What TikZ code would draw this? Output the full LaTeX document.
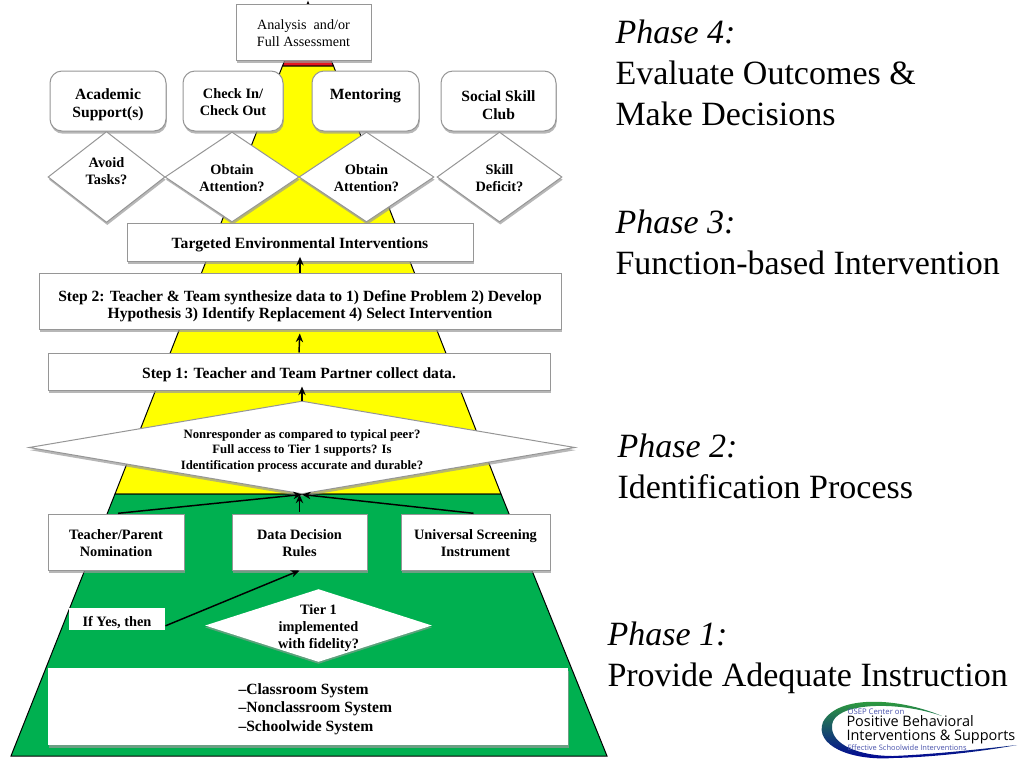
\documentclass[tikz,border=0pt]{standalone}
\usepackage{fontspec}
\setmainfont{Liberation Serif}
\newfontfamily\logofont{Open Sans}
\usetikzlibrary{shapes.geometric,shadows,arrows.meta}

\definecolor{pyrred}{RGB}{229,24,32}
\definecolor{pyryellow}{RGB}{255,255,0}
\definecolor{pyrgreen}{RGB}{0,176,80}
\definecolor{boxline}{RGB}{150,150,150}
\definecolor{osepblue}{RGB}{70,80,170}

\tikzset{every picture/.style={line width=0.75pt}}
\tikzset{
  softshadow/.style={drop shadow={shadow xshift=0.6pt,shadow yshift=-2pt,fill=black!40,opacity=0.7}},
  boxtext/.style={inner sep=0pt,align=center,font=\bfseries\fontsize{11.7}{13}\selectfont},
  smalltext/.style={inner sep=0pt,align=center,font=\bfseries\fontsize{10.75}{13}\selectfont},
  whitebox/.style={rectangle,draw=boxline,fill=white,inner sep=0pt,softshadow},
  roundbox/.style={whitebox,rounded corners=9pt},
  choice/.style={diamond,draw=boxline,fill=white,inner sep=0pt,softshadow},
  upline/.style={line width=1.1pt,-{Stealth[length=6.5pt,width=5.5pt]}},
  phasetext/.style={anchor=north west,inner sep=0pt,align=left,font=\fontsize{25.5}{30.8}\selectfont},
  pyrside/.style={draw=black,line width=0.75pt}
}

\begin{document}
\begin{tikzpicture}[x=0.75pt,y=0.75pt,yscale=-1,xscale=1]
\useasboundingbox (0,0) rectangle (1024,768);

%Shape: Triangle
\draw [pyrside,fill=pyrred] (308,2) -- (282.5,66) -- (333.5,66) -- cycle ;
%Shape: Trapezoid
\draw [pyrside,fill=pyryellow] (282.5,66) -- (333.5,66) -- (501,494) -- (115,494) -- cycle ;
%Shape: Trapezoid
\draw [pyrside,fill=pyrgreen] (115,494) -- (501,494) -- (607,756) -- (11,756) -- cycle ;

% Top row
\draw (303.5,32) node [whitebox,minimum width=101.25pt,minimum height=42pt] (analysis) {};
\draw (108,101) node [roundbox,minimum width=87pt,minimum height=45pt] (academic) {};
\draw (233,101) node [roundbox,minimum width=75pt,minimum height=45pt] (checkin) {};
\draw (365.5,101) node [roundbox,minimum width=80.25pt,minimum height=45pt] (mentoring) {};
\draw (498.5,101) node [roundbox,minimum width=86.25pt,minimum height=45pt] (social) {};

% Function diamonds
\draw (106.5,177) node [choice,minimum width=87.75pt,minimum height=68.25pt] (avoid) {};
\draw (232,177) node [choice,minimum width=100.5pt,minimum height=67.5pt] (obtainl) {};
\draw (366.5,177) node [choice,minimum width=101.25pt,minimum height=67.5pt] (obtainr) {};
\draw (499.5,177) node [choice,minimum width=93.75pt,minimum height=67.5pt] (skill) {};

% Steps
\draw (300,242) node [whitebox,minimum width=259.5pt,minimum height=28.5pt] (targeted) {};
\draw (300,301) node [whitebox,minimum width=391.5pt,minimum height=42pt] (steptwo) {};
\draw (299,371.5) node [whitebox,minimum width=376.5pt,minimum height=27.75pt] (stepone) {};
\draw (302,447.5) node [choice,minimum width=409.5pt,minimum height=69.75pt] (nonresp) {};

% Data sources
\draw (116,542) node [whitebox,minimum width=102pt,minimum height=42pt] (nomination) {};
\draw (299.5,542) node [whitebox,minimum width=101.25pt,minimum height=42pt] (rules) {};
\draw (475.5,542) node [whitebox,minimum width=111.75pt,minimum height=42pt] (screening) {};

% Tier 1
\draw (117,619) node [rectangle,fill=white,inner sep=0pt,minimum width=72pt,minimum height=16.5pt] (ifyes) {};
\draw (318.5,625.5) node [diamond,fill=white,inner sep=0pt,minimum width=170.25pt,minimum height=54.75pt,drop shadow={shadow xshift=0pt,shadow yshift=-1.5pt,fill=black!40,opacity=0.6}] (fidelity) {};
\draw (308,706.5) node [whitebox,draw=none,minimum width=390pt,minimum height=57.75pt] (systems) {};

%Straight Lines
\draw [upline,shorten >=-3.5pt] (steptwo.north) -- (targeted.south);
\draw [upline,shorten >=3pt] (stepone.north) -- (steptwo.south);
\draw [upline,shorten >=-3pt] (nonresp.north) -- (stepone.south -| nonresp.north);
\draw [upline,shorten <=1.5pt] (nomination.north) -- (nonresp.south);
\draw [upline,shorten <=1.5pt] (rules.north) -- (rules.north |- nonresp.south);
\draw [upline,shorten <=1.5pt] (screening.north) -- (nonresp.south);
\draw [upline] (ifyes.-8) -- (rules.south);

% Text Node
\draw (303.5,33) node [boxtext,font=\fontsize{10.6}{13}\selectfont] (analysistext) {Analysis\ \ and/or\\Full Assessment};
% Text Node
\draw (108,105) node [boxtext,font=\bfseries\fontsize{11.7}{13.5}\selectfont] (academictext) {Academic\\Support(s)};
% Text Node
\draw (233,102) node [smalltext] (checkintext) {Check In/\\Check Out};
% Text Node
\draw (365.5,96) node [boxtext] (mentoringtext) {Mentoring};
% Text Node
\draw (498.5,105) node [boxtext,font=\bfseries\fontsize{11.7}{13.5}\selectfont] (socialtext) {Social Skill\\Club};
% Text Node
\draw (106.5,171) node [smalltext] (avoidtext) {Avoid\\Tasks?};
% Text Node
\draw (232,178) node [smalltext] (obtainltext) {Obtain\\Attention?};
% Text Node
\draw (366.5,178) node [smalltext] (obtainrtext) {Obtain\\Attention?};
% Text Node
\draw (499.5,178) node [smalltext] (skilltext) {Skill\\Deficit?};
% Text Node
\draw (300,245) node [boxtext] (targetedtext) {Targeted Environmental Interventions};
% Text Node
\draw (300,306.5) node [boxtext] (steptwotext) {Step 2: Teacher \& Team synthesize data to 1) Define Problem 2) Develop\\Hypothesis 3) Identify Replacement 4) Select Intervention};
% Text Node
\draw (299,375) node [boxtext] (steponetext) {Step 1: Teacher and Team Partner collect data.};
% Text Node
\draw (302,450.5) node [boxtext,font=\bfseries\fontsize{9.55}{11.6}\selectfont] (nonresptext) {Nonresponder as compared to typical peer?\\Full access to Tier 1 supports? Is\\Identification process accurate and durable?};
% Text Node
\draw (116,543) node [smalltext] (nominationtext) {Teacher/Parent\\Nomination};
% Text Node
\draw (299.5,543) node [smalltext] (rulestext) {Data Decision\\Rules};
% Text Node
\draw (475.5,543) node [smalltext] (screeningtext) {Universal Screening\\Instrument};
% Text Node
\draw (117,623) node [smalltext] (ifyestext) {If Yes, then};
% Text Node
\draw (318.5,628) node [smalltext] (fidelitytext) {Tier 1\\implemented\\with fidelity?};
% Text Node
\draw (238,709) node [anchor=west,inner sep=0pt,align=left,font=\bfseries\fontsize{11.7}{13.9}\selectfont] (systemlist) {--Classroom System\\--Nonclassroom System\\--Schoolwide System};

% Phase labels
\draw (615,19) node [phasetext] (phasefour) {\textit{Phase 4:}\\Evaluate Outcomes \&\\Make Decisions};
\draw (615,209) node [phasetext] (phasethree) {\textit{Phase 3:}\\Function-based Intervention};
\draw (617,433) node [phasetext] (phasetwo) {\textit{Phase 2:}\\Identification Process};
\draw (607,621.5) node [phasetext] (phaseone) {\textit{Phase 1:}\\Provide Adequate Instruction};

%Shape: Logo swoosh
\shade [top color=green!60!black!80,bottom color=blue!60!black,draw=none] (942,716) .. controls (900,698) and (838,694) .. (823,722) .. controls (814,745) and (850,761) .. (893,758) .. controls (940,757) and (990,750) .. (1017,745) .. controls (990,748) and (940,754) .. (893,756) .. controls (860,756) and (830,745) .. (832,725) .. controls (834,703) and (895,700) .. (942,716) -- cycle ;
% Text Node
\draw (847,712) node [anchor=west,inner sep=0pt,text=osepblue,font=\logofont\fontsize{5.8}{6}\selectfont] (osep) {OSEP Center on};
\draw (846,721.5) node [anchor=west,inner sep=0pt,font=\logofont\fontsize{10.85}{12}\selectfont] (pbis) {Positive Behavioral};
\draw (846,736.5) node [anchor=west,inner sep=0pt,font=\logofont\fontsize{10.85}{12}\selectfont] (supports) {Interventions \& Supports};
\draw (847,747.5) node [anchor=west,inner sep=0pt,text=osepblue,font=\logofont\fontsize{5.6}{6}\selectfont] (effective) {Effective Schoolwide Interventions};
\end{tikzpicture}
\end{document}
